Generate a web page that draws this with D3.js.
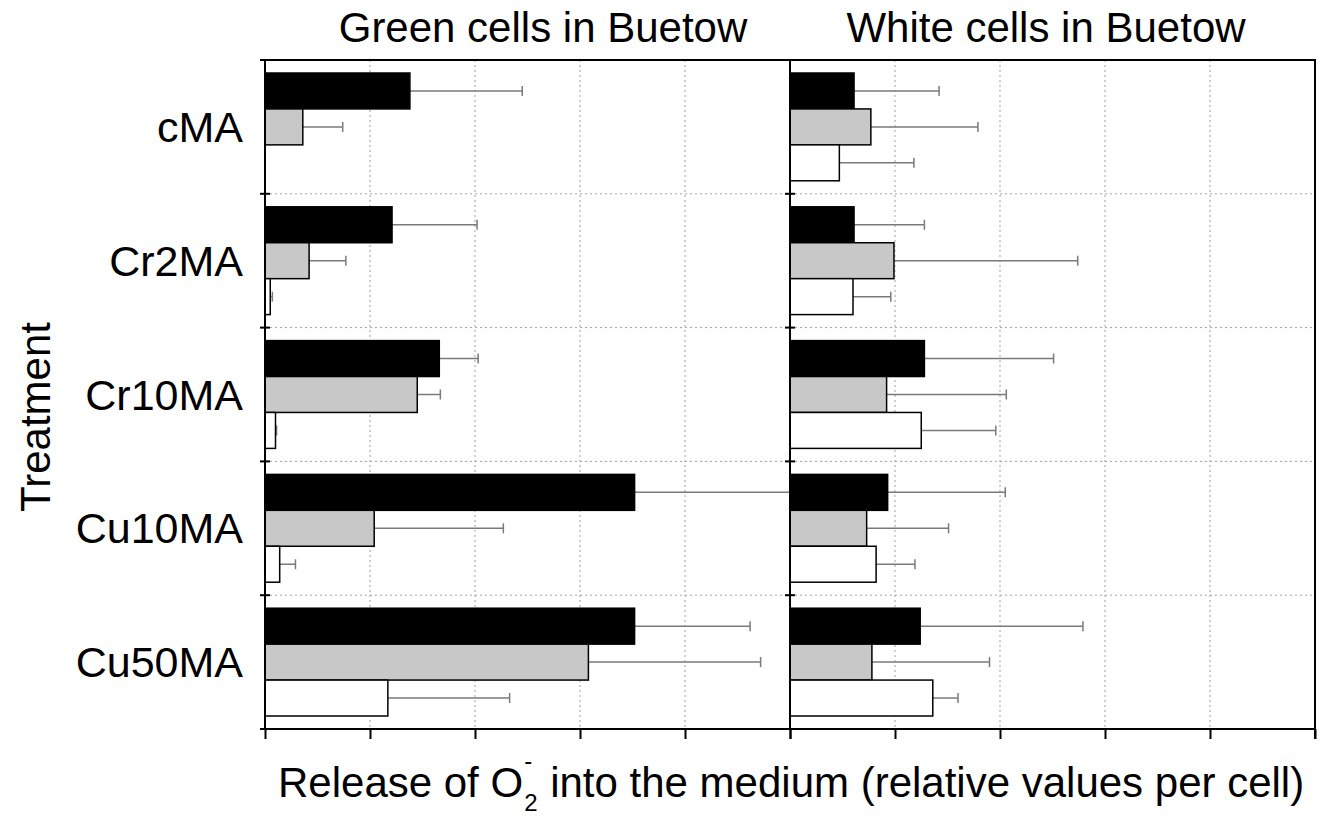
<!DOCTYPE html>
<html>
<head>
<meta charset="utf-8">
<script src="https://cdn.jsdelivr.net/npm/d3@7"></script>
<style>
  html, body { margin: 0; padding: 0; background: #fff; }
  svg { display: block; font-family: "Liberation Sans", Arial, sans-serif; }
</style>
</head>
<body>
<svg id="chart" width="1328" height="817"></svg>
<script>
// Treatments (rows) and panel titles
const treatments = ["cMA", "Cr2MA", "Cr10MA", "Cu10MA", "Cu50MA"];
const panelTitles = ["Green cells in Buetow", "White cells in Buetow"];
const xTicks = [0, 1, 2, 3, 4, 5];

// Green cells: mean release and error (three series per treatment)
const greenBlack    = [1.38, 1.21, 1.66, 3.52, 3.52];
const greenBlackErr = [1.07, 0.81, 0.37, 1.90, 1.10];
const greenGray     = [0.36, 0.42, 1.45, 1.04, 3.08];
const greenGrayErr  = [0.38, 0.35, 0.22, 1.23, 1.64];
const greenWhite    = [0.00, 0.05, 0.10, 0.14, 1.17];
const greenWhiteErr = [0.00, 0.02, 0.01, 0.15, 1.16];

// White cells: mean release and error
const whiteBlack    = [0.61, 0.61, 1.28, 0.93, 1.24];
const whiteBlackErr = [0.81, 0.67, 1.23, 1.12, 1.55];
const whiteGray     = [0.77, 0.99, 0.92, 0.73, 0.78];
const whiteGrayErr  = [1.02, 1.75, 1.14, 0.78, 1.12];
const whiteWhite    = [0.47, 0.60, 1.25, 0.82, 1.36];
const whiteWhiteErr = [0.71, 0.36, 0.71, 0.37, 0.24];

const seriesFills = ["#000000", "#c8c8c8", "#ffffff"];

const panels = [
  { title: panelTitles[0], means: [greenBlack, greenGray, greenWhite], errs: [greenBlackErr, greenGrayErr, greenWhiteErr] },
  { title: panelTitles[1], means: [whiteBlack, whiteGray, whiteWhite], errs: [whiteBlackErr, whiteGrayErr, whiteWhiteErr] }
];

const svg = d3.select("#chart");
const plotTop = 60, plotBottom = 729;
const panelLeft = [265, 790], panelWidth = 525;

const y = d3.scaleBand().domain(treatments).range([plotTop, plotBottom]).padding(0);
const ySeries = d3.scaleBand().domain([0, 1, 2])
  .range([13, y.bandwidth() - 13]).padding(0);

const boundaries = d3.range(treatments.length + 1).map(i => plotTop + i * y.step());

panels.forEach((p, pi) => {
  const x0 = panelLeft[pi];
  const x = d3.scaleLinear().domain([0, 5]).range([x0, x0 + panelWidth]);
  const g = svg.append("g");

  const clipId = "clip" + pi;
  svg.append("clipPath").attr("id", clipId)
    .append("rect").attr("x", x0).attr("y", plotTop).attr("width", panelWidth).attr("height", plotBottom - plotTop);

  // dotted grid
  g.selectAll(".vgrid").data(xTicks.slice(1, 5)).join("line")
    .attr("x1", d => x(d)).attr("x2", d => x(d))
    .attr("y1", plotTop).attr("y2", plotBottom)
    .attr("stroke", "#a0a0a0").attr("stroke-width", 1).attr("stroke-dasharray", "2,3");
  g.selectAll(".hgrid").data(boundaries.slice(1, -1)).join("line")
    .attr("x1", x0).attr("x2", x0 + panelWidth)
    .attr("y1", d => d).attr("y2", d => d)
    .attr("stroke", "#a0a0a0").attr("stroke-width", 1).attr("stroke-dasharray", "2,3");

  // bars and error bars
  const rows = [];
  treatments.forEach((t, ti) => {
    [0, 1, 2].forEach(si => {
      rows.push({ t, si, v: p.means[si][ti], e: p.errs[si][ti] });
    });
  });

  const body = g.append("g").attr("clip-path", `url(#${clipId})`);
  const shown = rows.filter(d => d.v > 0);

  body.selectAll(".err").data(shown).join("line")
    .attr("x1", d => x(d.v)).attr("x2", d => x(d.v + d.e))
    .attr("y1", d => y(d.t) + ySeries(d.si) + ySeries.bandwidth() / 2)
    .attr("y2", d => y(d.t) + ySeries(d.si) + ySeries.bandwidth() / 2)
    .attr("stroke", "#7a7a7a").attr("stroke-width", 1.5);
  body.selectAll(".cap").data(shown).join("line")
    .attr("x1", d => x(d.v + d.e)).attr("x2", d => x(d.v + d.e))
    .attr("y1", d => y(d.t) + ySeries(d.si) + ySeries.bandwidth() / 2 - 5)
    .attr("y2", d => y(d.t) + ySeries(d.si) + ySeries.bandwidth() / 2 + 5)
    .attr("stroke", "#7a7a7a").attr("stroke-width", 1.5);

  body.selectAll(".bar").data(shown).join("rect")
    .attr("x", x(0))
    .attr("y", d => y(d.t) + ySeries(d.si))
    .attr("width", d => x(d.v) - x(0))
    .attr("height", ySeries.bandwidth())
    .attr("fill", d => seriesFills[d.si])
    .attr("stroke", "#000").attr("stroke-width", 1.5);

  // bottom axis with outward ticks, no labels
  const xAxis = d3.axisBottom(x).tickValues(xTicks).tickSize(10).tickFormat("");
  const ax = g.append("g").attr("transform", `translate(0,${plotBottom})`).call(xAxis);
  ax.select(".domain").remove();
  ax.selectAll(".tick line").attr("stroke", "#000").attr("stroke-width", 2);

  // left axis line with small crossing ticks at row boundaries
  g.append("line").attr("x1", x0).attr("x2", x0).attr("y1", plotTop).attr("y2", plotBottom)
    .attr("stroke", "#000").attr("stroke-width", 2);
  g.selectAll(".ytick").data(boundaries).join("line")
    .attr("x1", x0 - 5).attr("x2", x0 + 5)
    .attr("y1", d => d).attr("y2", d => d)
    .attr("stroke", "#000").attr("stroke-width", 2);

  // panel title
  svg.append("text")
    .attr("x", pi === 0 ? 543 : 1046).attr("y", 42)
    .attr("text-anchor", "middle").attr("font-size", 42)
    .text(p.title);
});

// frame: top, bottom, right
svg.append("line").attr("x1", 260).attr("x2", 1316).attr("y1", plotTop).attr("y2", plotTop)
  .attr("stroke", "#000").attr("stroke-width", 2);
svg.append("line").attr("x1", 262).attr("x2", 1316).attr("y1", plotBottom).attr("y2", plotBottom)
  .attr("stroke", "#000").attr("stroke-width", 2);
svg.append("line").attr("x1", 1315).attr("x2", 1315).attr("y1", plotTop).attr("y2", plotBottom + 10)
  .attr("stroke", "#000").attr("stroke-width", 2);

// treatment labels
svg.selectAll(".cat").data(treatments).join("text")
  .attr("x", 243)
  .attr("y", d => y(d) + y.bandwidth() / 2)
  .attr("dy", "0.35em")
  .attr("text-anchor", "end").attr("font-size", 43)
  .text(d => d);

// y title
svg.append("text")
  .attr("transform", "translate(50,417) rotate(-90)")
  .attr("text-anchor", "middle").attr("font-size", 42)
  .text("Treatment");

// x title with O2- notation
const xt = svg.append("g");
const base = 797, startX = 278;
const part1 = xt.append("text").attr("x", startX).attr("y", base).attr("font-size", 42).text("Release of O");
const w1 = part1.node().getComputedTextLength();
xt.append("text").attr("x", startX + w1 + 1).attr("y", base - 28).attr("font-size", 24).text("-");
const sub = xt.append("text").attr("x", startX + w1 + 1).attr("y", base + 14).attr("font-size", 24).text("2");
const w2 = sub.node().getComputedTextLength();
xt.append("text").attr("x", startX + w1 + w2 + 2).attr("y", base).attr("font-size", 42)
  .style("white-space", "pre")
  .text(" into the medium (relative values per cell)");
</script>
</body>
</html>
